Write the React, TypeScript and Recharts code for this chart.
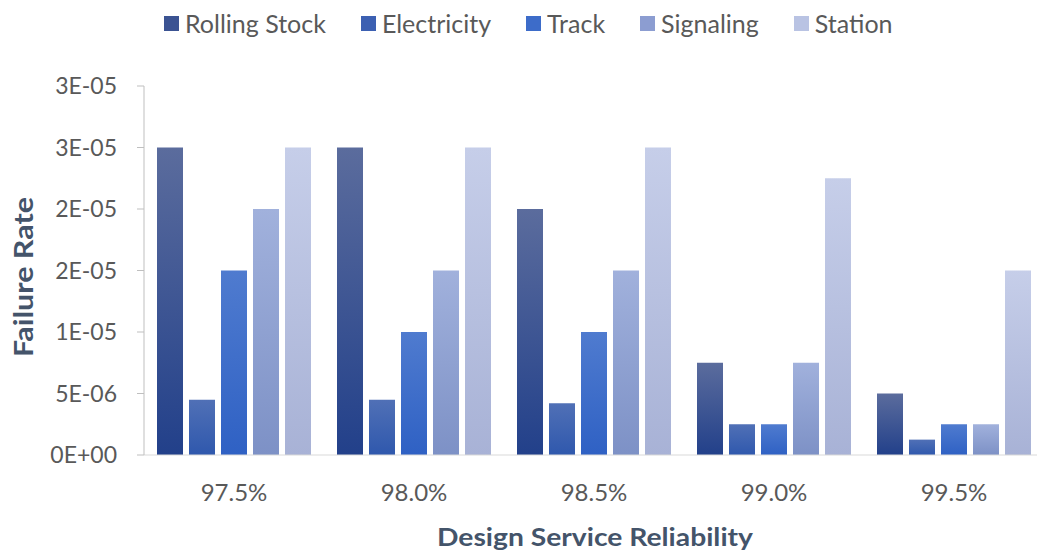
import { Bar, BarChart, XAxis, YAxis } from "recharts"

const categories = ["97.5%", "98.0%", "98.5%", "99.0%", "99.5%"]
const rollingStock = [2.5e-5, 2.5e-5, 2e-5, 7.5e-6, 5e-6]
const electricity = [4.5e-6, 4.5e-6, 4.2e-6, 2.5e-6, 1.25e-6]
const track = [1.5e-5, 1e-5, 1e-5, 2.5e-6, 2.5e-6]
const signaling = [2e-5, 1.5e-5, 1.5e-5, 7.5e-6, 2.5e-6]
const station = [2.5e-5, 2.5e-5, 2.5e-5, 2.25e-5, 1.5e-5]

const yTicks = [0, 5e-6, 1e-5, 1.5e-5, 2e-5, 2.5e-5, 3e-5]
// Excel rounds the labels to 0 decimals, so 1.5E-05 shows as 2E-05
const yTickLabels = ["0E+00", "5E-06", "1E-05", "2E-05", "2E-05", "3E-05", "3E-05"]

const series = [
  { key: "rollingStock", name: "Rolling Stock", top: "#5b6c9d", bottom: "#22408a", swatch: "#3b5392" },
  { key: "electricity", name: "Electricity", top: "#5070b6", bottom: "#2f58ad", swatch: "#3c60b2" },
  { key: "track", name: "Track", top: "#4f7bcf", bottom: "#2f61c4", swatch: "#3d6cc9" },
  { key: "signaling", name: "Signaling", top: "#a1b1dc", bottom: "#7d91c6", swatch: "#8c9dd1" },
  { key: "station", name: "Station", top: "#c6cee9", bottom: "#a8b2d6", swatch: "#b9c3e3" },
]

const data = categories.map((c, i) => ({
  category: c,
  rollingStock: rollingStock[i],
  electricity: electricity[i],
  track: track[i],
  signaling: signaling[i],
  station: station[i],
}))

const font = "Lato, 'Open Sans', sans-serif"
const grey = "#595959"
const titleColor = "#44546a"

export default function App() {
  return (
    <div
      style={{
        position: "absolute",
        left: 0,
        top: 0,
        width: 1037,
        height: 555,
        overflow: "hidden",
        background: "#fff",
        fontFamily: font,
      }}
    >
      <div
        style={{
          position: "absolute",
          left: 164,
          top: 8,
          display: "flex",
          alignItems: "center",
          gap: 35,
          fontSize: 25,
          lineHeight: "30px",
          color: grey,
        }}
      >
        {series.map((s) => (
          <div key={s.key} style={{ display: "flex", alignItems: "center" }}>
            <span style={{ width: 15, height: 15, background: s.swatch, marginRight: 6, display: "inline-block" }} />
            <span>{s.name}</span>
          </div>
        ))}
      </div>
      <BarChart
        width={1050}
        height={555}
        data={data}
        margin={{ top: 86, right: 6, bottom: 0, left: 0 }}
        barSize={26}
        barGap={6}
      >
        <defs>
          {series.map((s) => (
            <linearGradient key={s.key} id={`grad-${s.key}`} x1="0" y1="0" x2="0" y2="1">
              <stop offset="0%" stopColor={s.top} />
              <stop offset="100%" stopColor={s.bottom} />
            </linearGradient>
          ))}
        </defs>
        <XAxis
          dataKey="category"
          height={100}
          tickLine={false}
          tickSize={0}
          tickMargin={29}
          axisLine={{ stroke: "#d9d9d9" }}
          tick={{ fill: grey, fontSize: 24, fontFamily: font }}
        />
        <YAxis
          width={144}
          domain={[0, 3e-5]}
          ticks={yTicks}
          interval={0}
          tickFormatter={(v: number) => yTickLabels[yTicks.indexOf(v)] ?? ""}
          tickSize={7}
          tickMargin={20}
          axisLine={{ stroke: "#bfbfbf" }}
          tickLine={{ stroke: "#bfbfbf" }}
          tick={{ fill: grey, fontSize: 23, fontFamily: font }}
        />
        {series.map((s) => (
          <Bar key={s.key} dataKey={s.key} name={s.name} fill={`url(#grad-${s.key})`} isAnimationActive={false} />
        ))}
        <text
          x={23}
          y={277}
          transform="rotate(-90, 23, 277)"
          textAnchor="middle"
          dominantBaseline="central"
          fontSize={26}
          fontWeight="bold"
          fill={titleColor}
          fontFamily={font}
          textLength={160}
          lengthAdjust="spacingAndGlyphs"
        >
          Failure Rate
        </text>
        <text
          x={595}
          y={546}
          textAnchor="middle"
          fontSize={24}
          fontWeight="bold"
          fill={titleColor}
          fontFamily={font}
          textLength={316}
          lengthAdjust="spacingAndGlyphs"
        >
          Design Service Reliability
        </text>
      </BarChart>
    </div>
  )
}
